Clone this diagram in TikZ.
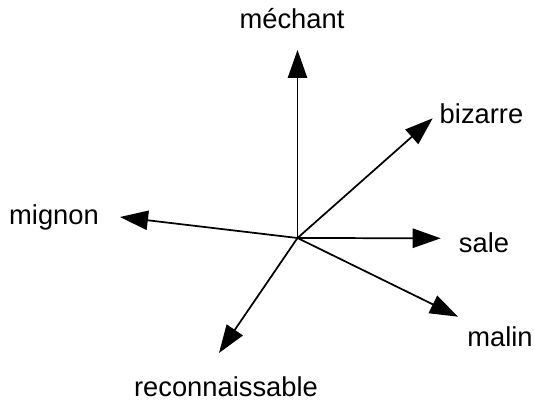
\documentclass[tikz,border=0pt]{standalone}
\usepackage{fontspec}
\setmainfont{Liberation Sans}
\usetikzlibrary{arrows.meta}
\newcommand{\wordfont}{\fontsize{20.5}{24}\selectfont}
\tikzset{
  vec/.style={-{Triangle[length=21pt, width=14.5pt]}, line width=1.3pt},
  wlabel/.style={font=\wordfont, anchor=base, inner sep=0pt},
}
\begin{document}
\begin{tikzpicture}[x=0.75pt, y=0.75pt]
  \useasboundingbox (0,0) rectangle (534,402);
  \coordinate (O) at (297.5,164);
  % arrow tips
  \coordinate (Tmechant) at (297.5,352);
  \coordinate (Tbizarre) at (432.7,283.7);
  \coordinate (Tsale)    at (440.7,163.7);
  \coordinate (Tmalin)   at (458,85.3);
  \coordinate (Treconn)  at (219,49);
  \coordinate (Tmignon)  at (120,185);
  % words
  \node[wlabel] (Lmechant) at (292,373.7) {méchant};
  \node[wlabel] (Lbizarre) at (481.5,278.7) {bizarre};
  \node[wlabel] (Lsale)    at (484,149.3) {sale};
  \node[wlabel] (Lmalin)   at (500,55.3) {malin};
  \node[wlabel] (Lreconn)  at (226,5) {reconnaissable};
  \node[wlabel] (Lmignon)  at (54,177) {mignon};
  \foreach \w in {mechant, bizarre, sale, malin, reconn, mignon}
    \draw[vec] (O) -- (T\w);
\end{tikzpicture}
\end{document}
